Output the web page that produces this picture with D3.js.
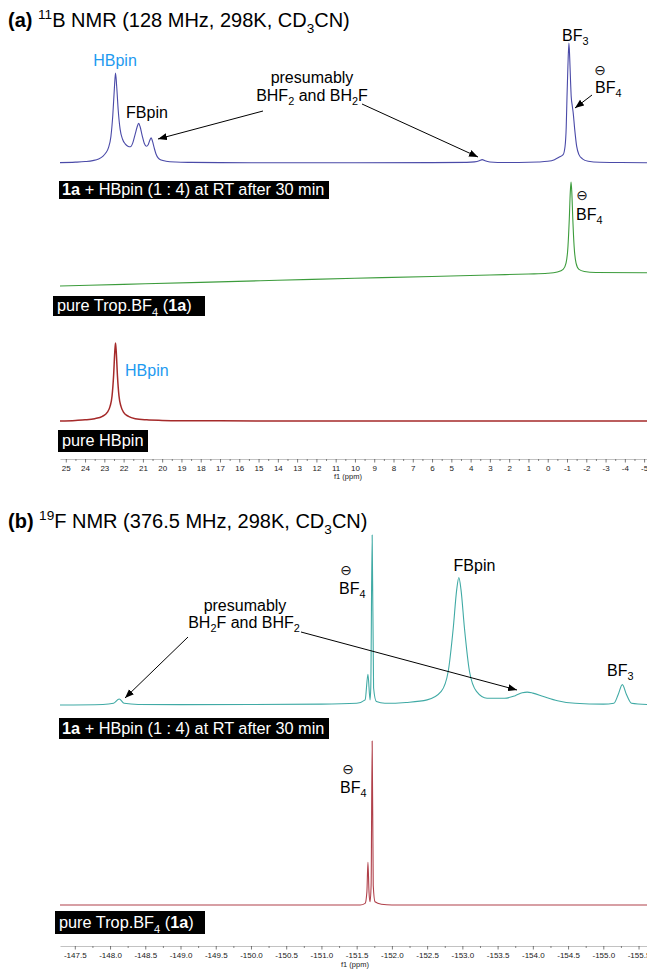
<!DOCTYPE html>
<html><head><meta charset="utf-8">
<script src="https://cdn.jsdelivr.net/npm/d3@7/dist/d3.min.js"></script>
<style>
html,body{margin:0;padding:0;background:#fff;}
svg{display:block;}
text{font-family:"Liberation Sans",Arial,Helvetica,sans-serif;}
</style></head><body>
<svg id="c" width="647" height="969"></svg>
<script>
// ================= DATA =================
// Panel (a) 11B axis tick labels (ppm)
const tickLabelsA = [25,24,23,22,21,20,19,18,17,16,15,14,13,12,11,10,9,8,7,6,5,4,3,2,1,0,-1,-2,-3,-4,-5];
// Panel (b) 19F axis tick labels (ppm)
const tickLabelsB = [-147.5,-148.0,-148.5,-149.0,-149.5,-150.0,-150.5,-151.0,-151.5,-152.0,-152.5,-153.0,-153.5,-154.0,-154.5,-155.0,-155.5];

// (a) trace 1: 1a + HBpin (1:4), 11B — ppm and relative intensity (%)
const a1Ppm = [25.3,24.5,24.0,23.6,23.3,23.08,22.92,22.78,22.66,22.56,22.48,22.42,22.36,22.28,22.18,22.06,21.92,21.78,21.65,21.52,21.4,21.3,21.22,21.14,21.04,20.93,20.82,20.72,20.64,20.57,20.5,20.42,20.32,20.2,20.05,19.8,19.3,18.5,17,14,10,6,4.2,3.8,3.55,3.4,3.25,3.0,2.6,1.5,0.5,0.0,-0.35,-0.6,-0.8,-0.9,-0.96,-1.0,-1.05,-1.1,-1.14,-1.18,-1.22,-1.27,-1.32,-1.4,-1.5,-1.62,-1.8,-2.1,-2.7,-3.8,-5.15];
const a1Int = [0.3,0.7,1.2,2.0,3.3,5.5,8.5,13,22,40,62,75,64,44,28,20,16,14,13.5,17,24,30,33,30,23,16.5,14,15.5,19,21,18,13,7.5,4,2.5,1.5,0.8,0.5,0.3,0.2,0.2,0.3,0.5,0.9,1.8,2.8,1.8,0.8,0.4,0.4,0.8,1.4,2.8,5,7,14,30,55,82,100,88,70,55,48,42,28,14,7,3.5,1.5,0.6,0.4,0.2];

// (a) trace 2: pure Trop.BF4 (1a), 11B
const a2Ppm = [25.3,22,18,14,10,6,3,1,0,-0.5,-0.8,-0.95,-1.05,-1.12,-1.17,-1.21,-1.25,-1.3,-1.37,-1.47,-1.62,-1.9,-2.5,-5.15];
const a2Int = [0,1.6,3.5,5.5,7.4,9.2,10.6,11.5,12.2,13.5,16,22,38,65,90,100,90,65,38,22,16,14,13,12.7];

// (a) trace 3: pure HBpin, 11B
const a3Ppm = [25.3,24.5,24.0,23.5,23.1,22.85,22.7,22.6,22.52,22.46,22.42,22.38,22.32,22.24,22.14,22.0,21.75,21.4,20.8,20.0,19.0,17.0,10.0,-5.15];
const a3Int = [0,0.8,1.5,3,6,11,19,32,58,88,100,88,58,32,19,11,6,3,1.5,0.8,0.4,0.2,0,0];

// (b) trace 1: 1a + HBpin (1:4), 19F
const b1Ppm = [-147.29,-147.9,-148.05,-148.13,-148.2,-148.4,-149.0,-150.0,-151.0,-151.5,-151.62,-151.66,-151.69,-151.70,-151.72,-151.74,-151.78,-151.9,-152.2,-152.5,-152.7,-152.8,-152.87,-152.92,-152.95,-152.98,-153.03,-153.1,-153.2,-153.35,-153.6,-153.75,-153.85,-153.92,-154.0,-154.15,-154.35,-154.6,-155.0,-155.15,-155.21,-155.27,-155.33,-155.4,-155.62];
const b1Int = [0,0.3,1,3.5,1,0.3,0.2,0.3,0.5,1,3,18,3,10,100,10,2,1,1.5,3,8,20,45,68,75,68,45,20,8,4,4,5.5,7.2,7.6,7,5,2.5,1,0.5,1,6,12,6,1,0.3];

// (b) trace 2: pure Trop.BF4 (1a), 19F
const b2Ppm = [-147.29,-151.55,-151.62,-151.645,-151.66,-151.675,-151.69,-151.705,-151.72,-151.735,-151.76,-151.85,-152.0,-155.62];
const b2Int = [0,0,1,8,26,8,2,12,100,12,2,0.5,0,0];

// ================= DRAW =================
const svg = d3.select("#c");
const zip = (p, v) => p.map((d, i) => ({ppm: d, v: v[i]}));

const xA = d3.scaleLinear().domain([25.3, -5.15]).range([60, 647]);
const xB = d3.scaleLinear().domain([-147.29, -155.62]).range([60, 647]);

function trace(x, base, height, ppm, vals, color, w) {
  const y = d3.scaleLinear().domain([0, 100]).range([base, base - height]);
  const line = d3.line().x(d => x(d.ppm)).y(d => y(d.v)).curve(d3.curveMonotoneX);
  svg.append("path").datum(zip(ppm, vals)).attr("d", line)
    .attr("fill", "none").attr("stroke", color).attr("stroke-width", w || 1)
    .attr("stroke-linejoin", "round");
}

trace(xA, 163, 120, a1Ppm, a1Int, "#4a4aa8", 1.1);
trace(xA, 286, 104, a2Ppm, a2Int, "#3c9c3c", 1.1);
trace(xA, 421, 78, a3Ppm, a3Int, "#a52a2a", 1.5);
trace(xB, 705, 170, b1Ppm, b1Int, "#40aaa5", 1.1);
trace(xB, 905, 164, b2Ppm, b2Int, "#b0404a", 1.1);

// rich text helper
function rich(x, y, segs, o) {
  const size = o.size;
  const t = svg.append("text").attr("x", x).attr("y", y).attr("font-size", size)
    .attr("fill", o.fill || "#000").attr("text-anchor", o.anchor || "start");
  let shift = 0;
  segs.forEach(s => {
    const target = s.sub ? size * 0.28 : s.sup ? -size * 0.38 : 0;
    const ts = t.append("tspan").text(s.t).attr("dy", target - shift);
    shift = target;
    if (s.sub || s.sup) ts.attr("font-size", size * 0.68);
    if (s.b) ts.attr("font-weight", "bold");
  });
  return t;
}
function minusCircle(cx, cy) {
  svg.append("text").attr("x", cx).attr("y", cy + 4.6).attr("text-anchor", "middle")
    .attr("font-size", 14).attr("fill", "#111").style("font-family", "'DejaVu Sans'").text("\u2296");
}
function box(x, y, w, h, tx, ty, segs) {
  svg.append("rect").attr("x", x).attr("y", y).attr("width", w).attr("height", h).attr("fill", "#000");
  rich(tx, ty, segs, {size: 16.3, fill: "#fff"});
}

// arrow marker
svg.append("defs").append("marker").attr("id", "ah").attr("markerUnits", "userSpaceOnUse")
  .attr("markerWidth", 10).attr("markerHeight", 8).attr("refX", 9).attr("refY", 3.5)
  .attr("orient", "auto").append("path").attr("d", "M0,0 L9,3.5 L0,7 Z").attr("fill", "#000");
function arrow(x1, y1, x2, y2) {
  svg.append("line").attr("x1", x1).attr("y1", y1).attr("x2", x2).attr("y2", y2)
    .attr("stroke", "#000").attr("stroke-width", 1).attr("marker-end", "url(#ah)");
}

// Titles
rich(8, 27, [{t: "(a)", b: 1}, {t: " "}, {t: "11", sup: 1}, {t: "B NMR (128 MHz, 298K, CD"}, {t: "3", sub: 1}, {t: "CN)"}], {size: 20});
rich(8, 528, [{t: "(b)", b: 1}, {t: " "}, {t: "19", sup: 1}, {t: "F NMR (376.5 MHz, 298K, CD"}, {t: "3", sub: 1}, {t: "CN)"}], {size: 20});

// Panel (a) annotations
rich(115, 66, [{t: "HBpin"}], {size: 16, fill: "#1e9af0", anchor: "middle"});
rich(147, 118, [{t: "FBpin"}], {size: 16, anchor: "middle"});
rich(312, 83, [{t: "presumably"}], {size: 16, anchor: "middle"});
rich(312, 101, [{t: "BHF"}, {t: "2", sub: 1}, {t: " and BH"}, {t: "2", sub: 1}, {t: "F"}], {size: 16, anchor: "middle"});
arrow(263, 111, 158, 139);
arrow(362, 104, 478, 157);
rich(562, 41, [{t: "BF"}, {t: "3", sub: 1}], {size: 16});
minusCircle(600, 70);
rich(595, 93, [{t: "BF"}, {t: "4", sub: 1}], {size: 16});
arrow(592, 95, 575, 108);

box(59, 181, 270, 18, 62, 195, [{t: "1a", b: 1}, {t: " + HBpin (1 : 4) at RT after 30 min"}]);
minusCircle(582, 195);
rich(576, 220, [{t: "BF"}, {t: "4", sub: 1}], {size: 16});
box(53, 296, 152, 20, 57, 311, [{t: "pure Trop.BF"}, {t: "4", sub: 1}, {t: " ("}, {t: "1a", b: 1}, {t: ")"}]);
rich(125, 376, [{t: "HBpin"}], {size: 16, fill: "#1e9af0"});
box(58, 430, 90, 22, 62, 446, [{t: "pure HBpin"}]);

// Panel (b) annotations
minusCircle(346, 570);
rich(339, 594, [{t: "BF"}, {t: "4", sub: 1}], {size: 16});
rich(474.5, 571, [{t: "FBpin"}], {size: 16, anchor: "middle"});
rich(607, 676, [{t: "BF"}, {t: "3", sub: 1}], {size: 16});
rich(245, 611, [{t: "presumably"}], {size: 16, anchor: "middle"});
rich(244, 628, [{t: "BH"}, {t: "2", sub: 1}, {t: "F and BHF"}, {t: "2", sub: 1}], {size: 16, anchor: "middle"});
arrow(188, 637, 125, 698);
arrow(301, 632, 517, 690);
box(59, 718, 270, 21, 62, 734, [{t: "1a", b: 1}, {t: " + HBpin (1 : 4) at RT after 30 min"}]);
minusCircle(348, 769);
rich(340, 793, [{t: "BF"}, {t: "4", sub: 1}], {size: 16});
box(55, 911, 150, 23, 59, 928, [{t: "pure Trop.BF"}, {t: "4", sub: 1}, {t: " ("}, {t: "1a", b: 1}, {t: ")"}]);

// Axes
function axis(x, y0, majors, minors, fmt, labelX, labelY) {
  const gMin = svg.append("g").attr("transform", `translate(0,${y0})`)
    .call(d3.axisBottom(x).tickValues(minors).tickSize(2).tickFormat("").tickSizeOuter(0));
  gMin.select(".domain").attr("stroke", "#999").attr("stroke-width", 0.6);
  gMin.selectAll(".tick line").attr("stroke", "#555").attr("stroke-width", 0.7);
  const g = svg.append("g").attr("transform", `translate(0,${y0})`)
    .call(d3.axisBottom(x).tickValues(majors).tickSize(3.5).tickPadding(3).tickFormat(fmt).tickSizeOuter(0));
  g.select(".domain").remove();
  g.selectAll(".tick line").attr("stroke", "#444").attr("stroke-width", 0.7);
  g.selectAll(".tick text").attr("font-size", 8).attr("fill", "#222")
    .style("font-family", "'Liberation Sans',Arial,sans-serif");
  svg.append("text").attr("x", labelX).attr("y", labelY).attr("text-anchor", "middle")
    .attr("font-size", 7.5).attr("fill", "#222").text("f1 (ppm)");
}
const minorsA = tickLabelsA.slice(0, -1).map(d => d - 0.5);
const minorsB = tickLabelsB.slice(0, -1).map(d => d - 0.25);
axis(xA, 459, tickLabelsA, minorsA, d => String(d), 348, 479);
axis(xB, 946, tickLabelsB, minorsB, d => d.toFixed(1), 355, 967);
</script>
</body></html>
